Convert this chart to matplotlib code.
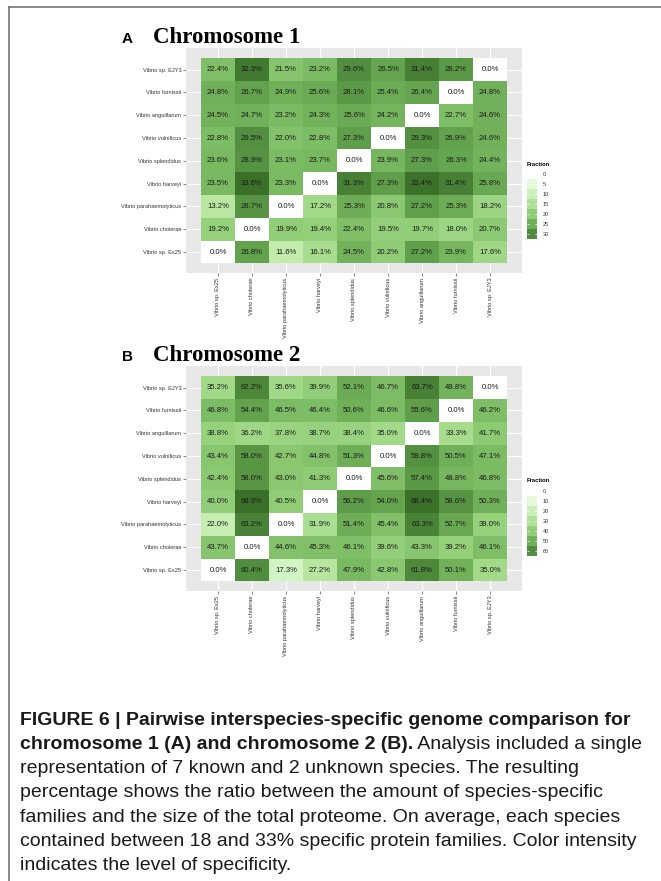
import numpy as np
import matplotlib.pyplot as plt
from matplotlib.colors import LinearSegmentedColormap, Normalize

# species order, rows from top to bottom; columns are the reverse
species_rows = ['Vibrio sp. EJY3', 'Vibrio furnissii', 'Vibrio anguillarum', 'Vibrio vulnificus',
                'Vibrio splendidus', 'Vibrio harveyi', 'Vibrio parahaemolyticus', 'Vibrio cholerae',
                'Vibrio sp. Ex25']
species_cols = species_rows[::-1]

# chromosome 1, percent specific families (rows as above)
chr1 = [
    [22.4, 32.3, 21.5, 23.2, 29.6, 26.5, 31.4, 28.2, 0.0],
    [24.8, 26.7, 24.9, 25.6, 28.1, 25.4, 26.4, 0.0, 24.8],
    [24.5, 24.7, 23.2, 24.3, 25.6, 24.2, 0.0, 22.7, 24.6],
    [22.8, 29.5, 22.0, 22.8, 27.3, 0.0, 29.3, 26.9, 24.6],
    [23.6, 28.9, 23.1, 23.7, 0.0, 23.9, 27.3, 26.3, 24.4],
    [23.5, 33.6, 23.3, 0.0, 31.3, 27.3, 33.4, 31.4, 25.8],
    [13.2, 28.7, 0.0, 17.2, 25.3, 20.8, 27.2, 25.3, 18.2],
    [19.2, 0.0, 19.9, 19.4, 22.4, 19.5, 19.7, 18.0, 20.7],
    [0.0, 26.8, 11.6, 16.1, 24.5, 20.2, 27.2, 23.9, 17.6],
]

# chromosome 2
chr2 = [
    [35.2, 62.2, 35.6, 39.9, 52.1, 46.7, 63.7, 49.8, 0.0],
    [46.8, 54.4, 46.5, 46.4, 50.6, 46.6, 55.6, 0.0, 46.2],
    [38.8, 36.2, 37.8, 38.7, 38.4, 35.0, 0.0, 33.3, 41.7],
    [43.4, 58.0, 42.7, 44.8, 51.3, 0.0, 59.8, 50.5, 47.1],
    [42.4, 58.0, 43.0, 41.3, 0.0, 45.6, 57.4, 48.8, 46.8],
    [40.0, 68.3, 40.5, 0.0, 56.2, 54.0, 68.4, 58.6, 50.3],
    [22.0, 63.2, 0.0, 31.9, 51.4, 45.4, 63.3, 52.7, 39.0],
    [43.7, 0.0, 44.6, 45.3, 46.1, 39.6, 43.3, 39.2, 46.1],
    [0.0, 60.4, 17.3, 27.2, 47.9, 42.8, 61.8, 50.1, 35.0],
]

breaks1 = [0, 5, 10, 15, 20, 25, 30]
breaks2 = [0, 10, 20, 30, 40, 50, 60]

caption_lines = [
    ('FIGURE 6 | Pairwise interspecies-specific genome comparison for', ''),
    ('chromosome 1 (A) and chromosome 2 (B).', ' Analysis included a single'),
    ('', 'representation of 7 known and 2 unknown species. The resulting'),
    ('', 'percentage shows the ratio between the amount of species-specific'),
    ('', 'families and the size of the total proteome. On average, each species'),
    ('', 'contained between 18 and 33% specific protein families. Color intensity'),
    ('', 'indicates the level of specificity.'),
]

W, H = 661, 881
fig = plt.figure(figsize=(W / 100, H / 100), dpi=100)

greens = LinearSegmentedColormap.from_list('greens', [
    (0.0, '#ffffff'), (0.25, '#d2f3c3'), (0.35, '#c1ebab'), (0.5, '#a4db8c'),
    (0.6, '#8fcc75'), (0.7, '#78b961'), (0.8, '#62a24d'), (0.9, '#4e8a3c'),
    (1.0, '#3b7029')])

label_font = ['Liberation Sans', 'DejaVu Sans']


def px_axes(left, top, right, bottom):
    # axes placed in pixel coordinates of the 661x881 picture
    return fig.add_axes([left / W, 1 - bottom / H, (right - left) / W, (bottom - top) / H])


def fig_text(x, y, s, **kw):
    return fig.text(x / W, 1 - y / H, s, **kw)


def heatmap(values, top, bottom, letter, name, breaks, step, bar_top, px_per_unit):
    data = np.array(values)
    vmax = data.max()
    norm = Normalize(0, vmax)
    ax = px_axes(186, top, 522, bottom)
    ax.set_facecolor('#e8e8e8')
    n = len(species_rows)
    edges = np.arange(n + 1) - 0.5
    ax.pcolormesh(edges, edges, data[::-1], cmap=greens, norm=norm)
    for i in range(n):
        for j in range(n):
            ax.text(j, n - 1 - i, f'{data[i, j]:.1f}%', ha='center', va='center',
                    fontsize=5.6, color='#1a1a1a', family=label_font)
    ax.set_xlim(-0.94, n - 0.06)
    ax.set_ylim(-0.92, n - 0.05)
    ax.set_xticks(range(n))
    ax.set_yticks(range(n))
    ax.set_xticklabels(species_cols, rotation=90, family=label_font)
    ax.set_yticklabels(species_rows[::-1], family=label_font)
    ax.tick_params(length=2.2, width=0.5, color='#555555', labelsize=4.1,
                   labelcolor='#333333', pad=1.2)
    ax.grid(color='white', lw=0.8)
    ax.set_axisbelow(True)
    for s in ax.spines.values():
        s.set_visible(False)

    # panel title
    fig_text(122, top - 5, letter, fontsize=11, fontweight='bold',
             family=label_font, va='baseline')
    fig_text(153, top - 5, name, fontsize=16.5, fontweight='bold',
             family=['Liberation Serif', 'DejaVu Serif'], va='baseline')

    # colour legend as stepped bar
    cax = px_axes(527, bar_top, 537, bar_top + vmax * px_per_unit)
    for b in breaks:
        lo = max(0, b - step / 2)
        hi = min(vmax, b + step / 2)
        cax.bar(0.5, hi - lo, bottom=lo, width=1, color=greens(norm(b)))
    cax.hlines(breaks, 0, 0.2, color='white', lw=0.5)
    cax.hlines(breaks, 0.8, 1, color='white', lw=0.5)
    cax.set_xlim(0, 1)
    cax.set_ylim(vmax, 0)
    cax.set_xticks([])
    cax.set_yticks(breaks)
    cax.yaxis.tick_right()
    cax.tick_params(length=0, labelsize=4, labelcolor='#333333', pad=4)
    for lab in cax.get_yticklabels():
        lab.set_family(label_font)
    for s in cax.spines.values():
        s.set_visible(False)
    fig_text(527, bar_top - 10, 'Fraction', fontsize=4.2, fontweight='bold',
             family=label_font, va='center')


heatmap(chr1, 48, 273, 'A', 'Chromosome 1', breaks1, 5, 174, 2.0)
heatmap(chr2, 366, 591, 'B', 'Chromosome 2', breaks2, 10, 490.7, 1.0)

# frame around the figure
fig.add_artist(plt.Line2D([8.5 / W, 1], [1 - 6.5 / H, 1 - 6.5 / H], transform=fig.transFigure,
                          color='#777777', lw=1.2))
fig.add_artist(plt.Line2D([8.5 / W, 8.5 / W], [0, 1 - 6.5 / H], transform=fig.transFigure,
                          color='#777777', lw=1.2))

# caption, bold lead-in followed by regular text
cap_font = ['Liberation Sans', 'DejaVu Sans']
fig.canvas.draw()
renderer = fig.canvas.get_renderer()
for k, (bold, regular) in enumerate(caption_lines):
    y = 724.7 + 24.2 * k
    x = 20
    if bold:
        t = fig_text(x, y, bold, fontsize=14, fontweight='bold', family=cap_font,
                     va='baseline', color='#1a1a1a')
        x = t.get_window_extent(renderer).x1
    if regular:
        fig_text(x, y, regular, fontsize=14, family=cap_font, va='baseline',
                 color='#1a1a1a')

fig.savefig('out.png', dpi=100)
